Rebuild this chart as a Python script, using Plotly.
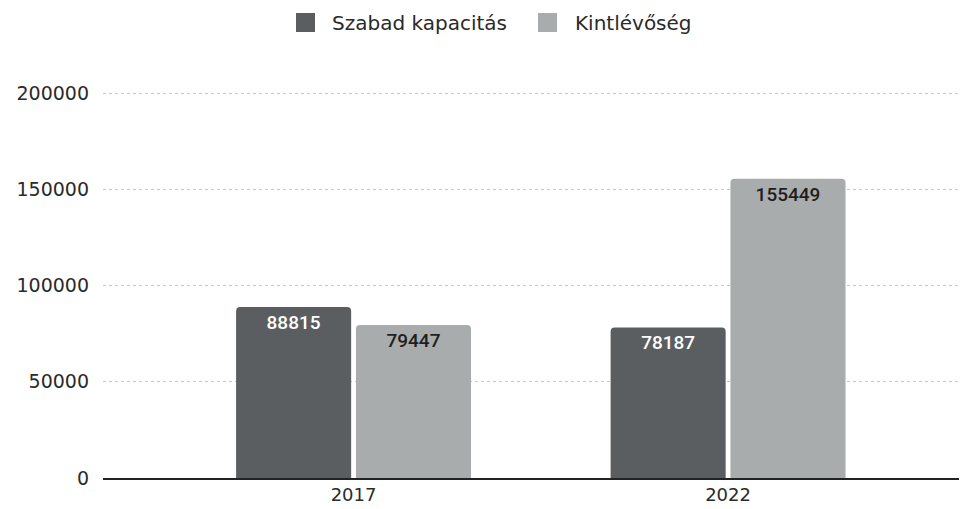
import plotly.graph_objects as go

years = ["2017", "2022"]
szabad = [88815, 78187]
kintlevoseg = [79447, 155449]
series_names = ["Szabad kapacitás", "Kintlévőség"]
series_colors = ["#5b5e60", "#a9acac"]
tick_vals = [0, 50000, 100000, 150000, 200000]

fig = go.Figure()
fig.add_trace(go.Bar(
    x=years, y=szabad, name=series_names[0],
    marker=dict(color=series_colors[0], line=dict(width=0)),
    text=[str(v) for v in szabad], textposition="inside", insidetextanchor="end",
    textfont=dict(family="Roboto", size=19, color="white", weight=500),
    textangle=0,
))
fig.add_trace(go.Bar(
    x=years, y=kintlevoseg, name=series_names[1],
    marker=dict(color=series_colors[1], line=dict(width=0)),
    text=[str(v) for v in kintlevoseg], textposition="inside", insidetextanchor="end",
    textfont=dict(family="Roboto", size=19, color="#1e1e1e", weight=500),
    textangle=0,
))

# plot area (window px): x 103..967, y 91..478
PX0, PW, PY0, PH = 103, 864, 478, 387
legend_items = [(296, 330), (538, 573)]
shapes = []
annotations = []
for (sx, tx), name, col in zip(legend_items, series_names, series_colors):
    shapes.append(dict(type="rect", xref="paper", yref="paper",
                       x0=(sx - PX0) / PW, x1=(sx + 19 - PX0) / PW,
                       y0=(PY0 - 32) / PH, y1=(PY0 - 13) / PH,
                       fillcolor=col, line=dict(width=0)))
    annotations.append(dict(xref="paper", yref="paper", x=(tx - PX0) / PW,
                            y=(PY0 - 23) / PH, xanchor="left", yanchor="middle",
                            text=name, showarrow=False,
                            font=dict(family="DejaVu Sans", size=20, color="#2a2a2a")))

# The page body has an 8px default margin; size the figure so it fits the window
fig.update_layout(
    width=959, height=501,
    margin=dict(l=95, r=0, t=83, b=31, autoexpand=False),
    paper_bgcolor="white", plot_bgcolor="white",
    barmode="group", bargap=0.36, bargroupgap=0.04,
    barcornerradius=4,
    font=dict(family="DejaVu Sans", size=19, color="#2a2a2a"),
    showlegend=False,
    shapes=shapes,
    annotations=annotations,
    xaxis=dict(range=[-0.669, 1.638], showgrid=False, showline=True,
               linecolor="#222222", linewidth=1.5, ticks="", tickfont=dict(size=18),
               automargin=False, fixedrange=True),
    yaxis=dict(range=[0, 201040], tickvals=tick_vals, ticktext=[str(v) for v in tick_vals],
               showgrid=True, gridcolor="#c8c8c8", griddash="dot", gridwidth=1,
               zeroline=False, showline=False, ticks="", ticklabelstandoff=13,
               tickfont=dict(size=19), automargin=False),
)

fig.write_html("out.html")
